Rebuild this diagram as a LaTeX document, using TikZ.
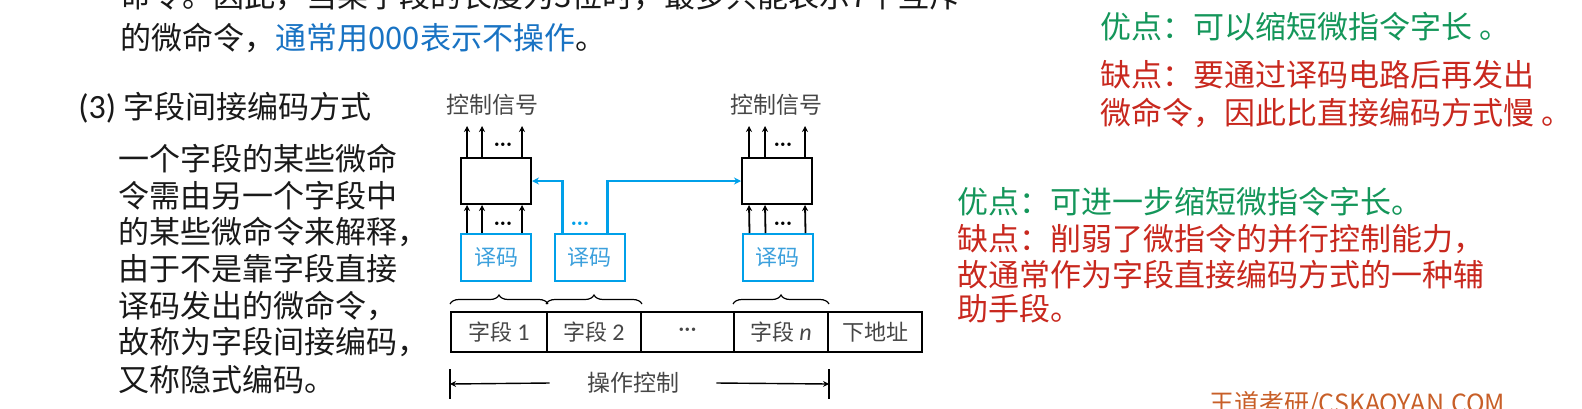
\documentclass[tikz,border=0pt]{standalone}
\usepackage{fontspec}
\setmainfont{Noto Sans CJK SC}
\newfontfamily\carl{Carlito}
\usetikzlibrary{arrows.meta,decorations.pathreplacing,calc}
\definecolor{txt}{RGB}{25,25,25}
\definecolor{tblue}{RGB}{25,115,195}
\definecolor{dblue}{RGB}{0,160,233}
\definecolor{dtxt}{RGB}{60,160,220}
\definecolor{tgreen}{RGB}{20,150,90}
\definecolor{tred}{RGB}{200,40,30}
\definecolor{dgray}{RGB}{70,70,70}
\definecolor{wmc}{RGB}{200,95,40}
\tikzset{
  bigt/.style={font=\fontsize{15.5pt}{18pt}\selectfont, text=txt, inner sep=0pt, anchor=base west},
  dtext/.style={font=\fontsize{11.5pt}{13pt}\selectfont, text=dgray, inner sep=0pt},
  blk/.style={draw=black, line width=1pt, inner sep=0pt, minimum width=35pt, minimum height=23pt},
  dec/.style={draw=dblue, line width=1pt, inner sep=0pt, minimum width=35pt, minimum height=23.5pt, text=dtxt, font=\fontsize{11pt}{13pt}\selectfont},
  cell/.style={draw=black, line width=1pt, inner sep=0pt, minimum height=20pt, text=dgray, font=\fontsize{11pt}{12pt}\selectfont},
  arr/.style={line width=0.9pt, -{Stealth[length=3pt,width=3pt]}},
  barr/.style={draw=dblue, line width=1.2pt, -{Stealth[length=3.5pt,width=3.5pt]}},
  brc/.style={line width=0.6pt, decorate, decoration={brace, amplitude=4.5pt}},
  dims/.style={line width=0.7pt},
  darr/.style={line width=0.7pt, -{Stealth[length=3pt,width=3pt]}},
  dotsn/.style={inner sep=0pt, font=\carl\fontsize{12pt}{12pt}\selectfont}
}
\begin{document}
\begin{tikzpicture}[x=0.5pt,y=-0.5pt]
\useasboundingbox (0,0) rectangle (1582,408);
\clip (0,0) rectangle (1582,408);
% top text
\node[bigt] (t0) at (120,7) {命令。因此，当某字段的长度为3位时，最多只能表示7个互斥};
\node[bigt] (t1) at (120,49) {的微命令，\textcolor{tblue}{通常用000表示不操作}。};
% left block
\node[bigt] (h) at (78,118) {{\carl\fontsize{17pt}{18pt}\selectfont (3)} 字段间接编码方式};
\node[bigt] (p1) at (118,170) {一个字段的某些微命};
\node[bigt] (p2) at (118,207) {令需由另一个字段中};
\node[bigt] (p3) at (118,243) {的某些微命令来解释，};
\node[bigt] (p4) at (118,280) {由于不是靠字段直接};
\node[bigt] (p5) at (118,317) {译码发出的微命令，};
\node[bigt] (p6) at (118,353) {故称为字段间接编码，};
\node[bigt] (p7) at (118,391) {又称隐式编码。};
% diagram
\node[dtext] (ctrlL) at (492,105) {控制信号};
\node[dtext] (ctrlR) at (776,105) {控制信号};
\node[blk] (boxL) at (496,181) {};
\node[blk] (boxR) at (777,181) {};
\node[dec] (dec1) at (496,257.5) {译码};
\node[dec] (dec2) at (589.5,257.5) {译码};
\node[dec] (dec3) at (777.5,257.5) {译码};
\foreach \s/\n in {3.5pt/a,11pt/b,31pt/c}{
  \coordinate (oL\n) at ([xshift=\s]boxL.north west);
  \coordinate (iL\n) at ([xshift=\s]boxL.south west);
  \coordinate (dL\n) at ([xshift=\s]dec1.north west);
  \draw[arr] (oL\n) -- ++(0,-31);
  \draw[arr] (dL\n) -- (iL\n);
}
\foreach \s/\n in {4pt/a,12pt/b,32pt/c}{
  \coordinate (oR\n) at ([xshift=\s]boxR.north west);
  \coordinate (iR\n) at ([xshift=\s]boxR.south west);
  \coordinate (dR\n) at ([xshift=\s]dec3.north west);
  \draw[arr] (oR\n) -- ++(0,-31);
  \draw[arr] (dR\n) -- (iR\n);
}
\node[dotsn] (dtL1) at (503,147) {···};
\node[dotsn] (dtL2) at (503,226) {···};
\node[dotsn] (dtR1) at (783,147) {···};
\node[dotsn] (dtR2) at (783,226) {···};
\node[dotsn, text=dblue] (dtM) at (580,226) {···};
\coordinate (m1) at ([xshift=4.5pt]dec2.north west);
\coordinate (m2) at ([xshift=27pt]dec2.north west);
\draw[barr] (m1) |- (boxL.east);
\draw[barr] (m2) |- (boxR.west);
% bar
\node[cell, minimum width=48pt] (c1) at (499,332) {字段 {\carl\fontsize{12pt}{12pt}\selectfont 1}};
\node[cell, minimum width=47pt] (c2) at (594,332) {字段 {\carl\fontsize{12pt}{12pt}\selectfont 2}};
\node[cell, minimum width=46.5pt, font=\carl\fontsize{12pt}{12pt}\selectfont] (c3) at (687.5,332) {···};
\node[cell, minimum width=47pt] (c4) at (781,332) {字段 {\carl\itshape\fontsize{12pt}{12pt}\selectfont n}};
\node[cell, minimum width=47pt] (c5) at (875,332) {下地址};
\draw[brc] ([yshift=3.5pt]c1.north west) -- ([yshift=3.5pt]c1.north east);
\draw[brc] ([yshift=3.5pt]c2.north west) -- ([yshift=3.5pt]c2.north east);
\draw[brc] ([yshift=3.5pt]c4.north west) -- ([yshift=3.5pt]c4.north east);
% dimension
\coordinate (tl1) at ($(c1.south west)+(0,16)$);
\coordinate (tl2) at ($(c1.south west)+(0,46)$);
\coordinate (tr1) at ($(c4.south east)+(0,16)$);
\coordinate (tr2) at ($(c4.south east)+(0,46)$);
\coordinate (dl) at ($(c1.south west)+(0,31)$);
\coordinate (dr) at ($(c4.south east)+(0,31)$);
\draw[dims] (tl1) -- (tl2);
\draw[dims] (tr1) -- (tr2);
\node[dtext, inner xsep=18.5pt] (op) at (633,383) {操作控制};
\draw[darr] (op.west) -- (dl);
\draw[darr] (op.east) -- (dr);
% right texts
\node[bigt, text=tgreen] (g1) at (1100,38) {优点：可以缩短微指令字长 。};
\node[bigt, text=tred] (r1) at (1100,86) {缺点：要通过译码电路后再发出};
\node[bigt, text=tred] (r2) at (1100,124) {微命令，因此比直接编码方式慢 。};
\node[bigt, text=tgreen] (g2) at (957,213) {优点：可进一步缩短微指令字长。};
\node[bigt, text=tred] (r3) at (957,250) {缺点：削弱了微指令的并行控制能力，};
\node[bigt, text=tred] (r4) at (957,286) {故通常作为字段直接编码方式的一种辅};
\node[bigt, text=tred] (r5) at (957,320) {助手段。};
% watermark
\node[inner sep=0pt, anchor=base west, text=wmc, font=\fontsize{12.5pt}{14pt}\selectfont] (wm) at (1209,412) {王道考研/CSKAOYAN.COM};
\end{tikzpicture}
\end{document}
